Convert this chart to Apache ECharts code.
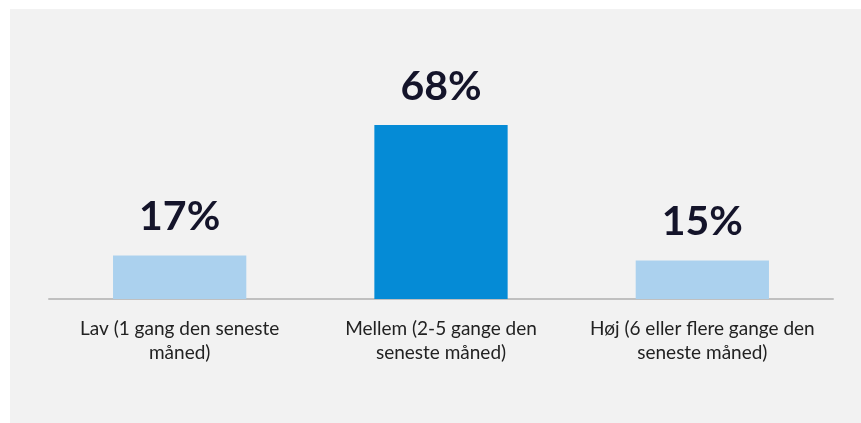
<!DOCTYPE html>
<html>
<head>
<meta charset="utf-8">
<script src="https://cdn.jsdelivr.net/npm/echarts@6/dist/echarts.min.js"></script>
<style>
  html, body { margin: 0; padding: 0; background: #ffffff; }
  #chart { width: 861px; height: 423px; }
</style>
</head>
<body>
<div id="chart"></div>
<script>
// data
const categories = [
  'Lav (1 gang den seneste\nmåned)',
  'Mellem (2-5 gange den\nseneste måned)',
  'Høj (6 eller flere gange den\nseneste måned)'
];
const shares = [17, 68, 15];
const barColors = ['#abd1ee', '#058bd6', '#abd1ee'];

const chart = echarts.init(document.getElementById('chart'));

const option = {
  backgroundColor: '#ffffff',
  animation: false,
  graphic: [
    {
      type: 'rect',
      z: -10,
      shape: { x: 10, y: 9, width: 851, height: 414 },
      style: { fill: '#f2f2f2' },
    },
  ],
  grid: {
    left: 49,
    right: 28,
    top: 43,
    bottom: 124,
  },
  xAxis: {
    type: 'category',
    data: categories,
    axisLine: { lineStyle: { color: '#c0c0c0', width: 2 } },
    axisTick: { show: false },
    axisLabel: {
      interval: 0,
      color: '#222222',
      fontFamily: 'Lato',
      fontSize: 19,
      lineHeight: 24,
      margin: 18,
    },
  },
  yAxis: {
    type: 'value',
    min: 0,
    max: 100,
    show: false,
    splitLine: { show: false },
  },
  series: [
    {
      type: 'bar',
      barWidth: '51%',
      data: shares.map((v, i) => ({ value: v, itemStyle: { color: barColors[i] } })),
      label: {
        show: true,
        position: 'top',
        distance: 18,
        formatter: '{c}%',
        color: '#14142a',
        fontFamily: 'Lato',
        fontWeight: 'bold',
        fontSize: 41,
      },
    },
  ],
};

chart.setOption(option);
</script>
</body>
</html>
